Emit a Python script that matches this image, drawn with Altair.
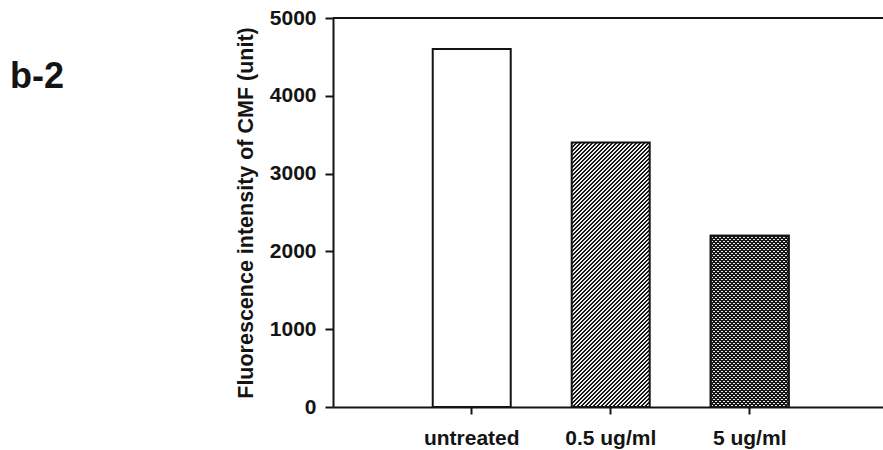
import math
import altair as alt
import pandas as pd

# ---- data ----
categories = ["untreated", "0.5 ug/ml", "5 ug/ml"]
values = [4600, 3400, 2200]
y_ticks = [0, 1000, 2000, 3000, 4000, 5000]
panel_label = "b-2"
y_title = "Fluorescence intensity of CMF (unit)"

df = pd.DataFrame({"treatment": categories, "intensity": values})

# ---- layout / style ----
PLOT_W, PLOT_H = 550, 389
Y_MAX = 5000
BAND_W = 78.0        # bar width in px (used only to orient the hatch)
PERIOD = 4           # hatch period (px, measured along x)
FONT = "Liberation Sans"
INK = "#141414"
DARK = "#161616"
LIGHT = "#ececec"


def stripe_fill(h, direction, dark, light, frac=0.5):
    """Linear gradient with hard stops that imitates a diagonal hatch."""
    w = BAND_W
    n = math.ceil((w + h) / PERIOD)
    L = n * PERIOD                      # span of x+y covered by the gradient
    t = L / (w * w + h * h)
    stops = []
    for k in range(n):
        a, b, c = k / n, (k + frac) / n, (k + 1) / n
        stops += [
            alt.GradientStop(offset=a, color=dark),
            alt.GradientStop(offset=b, color=dark),
            alt.GradientStop(offset=b, color=light),
            alt.GradientStop(offset=c, color=light),
        ]
    if direction == "/":
        x1, y1, x2, y2 = 0, 0, w * t, h * t
    else:
        x1, y1, x2, y2 = 0, 1, w * t, 1 - h * t
    return alt.LinearGradient(gradient="linear", stops=stops,
                              x1=x1, y1=y1, x2=x2, y2=y2)


def bar_h(v):
    return v / Y_MAX * PLOT_H


x_enc = alt.X(
    "treatment:N",
    scale=alt.Scale(domain=categories, paddingInner=0.4388,
                    paddingOuter=0.698, align=0.514),
    axis=alt.Axis(title=None, labelAngle=0, labelFont=FONT, labelFontSize=21,
                  labelFontWeight="bold", labelColor=INK, labelPadding=13,
                  tickSize=7, tickWidth=2, tickColor=INK,
                  domainWidth=2, domainColor=INK),
)
y_enc = alt.Y(
    "intensity:Q",
    scale=alt.Scale(domain=[0, Y_MAX], nice=False),
    axis=alt.Axis(title=y_title, values=y_ticks, format="d", grid=False,
                  labelFont=FONT, labelFontSize=21, labelFontWeight="bold",
                  labelColor=INK, labelPadding=9,
                  tickSize=8, tickWidth=2, tickColor=INK,
                  domainWidth=2, domainColor=INK,
                  titleFont=FONT, titleFontSize=21.5, titleFontWeight="bold",
                  titleColor=INK, titleX=-87, titleY=PLOT_H / 2,
                  titleAngle=270, titleAlign="center", titleBaseline="middle"),
)

base = alt.Chart(df).encode(x=x_enc, y=y_enc)

bar_stroke = dict(stroke=INK, strokeWidth=2)

b_untreated = base.transform_filter(
    alt.datum.treatment == categories[0]
).mark_bar(fill="white", **bar_stroke)

b_low = base.transform_filter(
    alt.datum.treatment == categories[1]
).mark_bar(fill=stripe_fill(bar_h(values[1]), "/", DARK, LIGHT, 0.5),
           **bar_stroke)

b_high_a = base.transform_filter(
    alt.datum.treatment == categories[2]
).mark_bar(fill=stripe_fill(bar_h(values[2]), "/", DARK, LIGHT, 0.5),
           **bar_stroke)

b_high_b = base.transform_filter(
    alt.datum.treatment == categories[2]
).mark_bar(fill=stripe_fill(bar_h(values[2]), "\\", DARK,
                            "rgba(255,255,255,0)", 0.5),
           **bar_stroke)

top_line = alt.Chart(df).mark_rule(color=INK, strokeWidth=2).encode(
    y=alt.datum(Y_MAX)
)

label = alt.Chart(pd.DataFrame({"t": [panel_label]})).mark_text(
    align="left", baseline="alphabetic", font=FONT, fontSize=36,
    fontWeight="bold", color=INK
).encode(text="t:N", x=alt.value(-323), y=alt.value(70))

chart = alt.layer(
    b_untreated, b_low, b_high_a, b_high_b, top_line, label
).properties(
    width=PLOT_W,
    height=PLOT_H,
    autosize=alt.AutoSizeParams(type="none"),
    padding={"left": 333, "top": 18, "right": 0, "bottom": 43},
    background="white",
).configure_view(stroke=None)

chart.save("out.html", embed_options={"renderer": "svg", "actions": False})
